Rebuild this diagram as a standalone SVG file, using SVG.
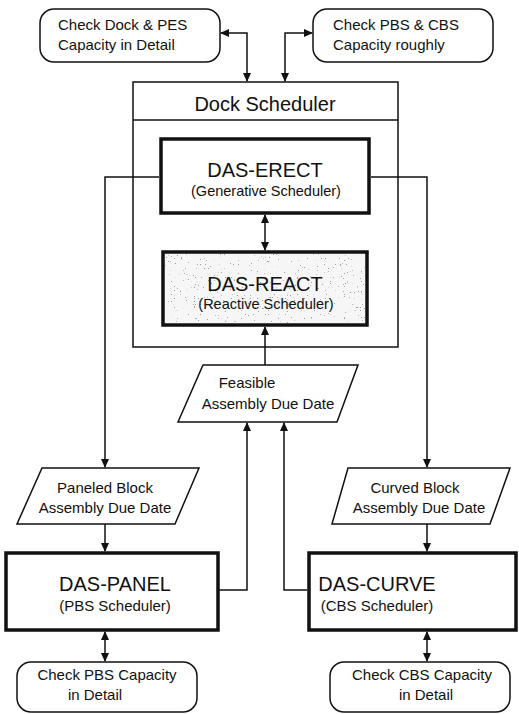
<svg xmlns="http://www.w3.org/2000/svg" width="519" height="714" viewBox="0 0 519 714">
<style>
text{font-family:"Liberation Sans",Arial,sans-serif;fill:#111}
.s{font-size:15px}
.l{font-size:20px}
.m{font-size:14.5px}
.box{fill:#fff;stroke:#111;stroke-width:1.5}
.thick{fill:#fff;stroke:#111;stroke-width:3.5}
.c{fill:none;stroke:#111;stroke-width:1.5}
</style>
<defs>
<marker id="ah" markerUnits="userSpaceOnUse" markerWidth="10" markerHeight="10" refX="8" refY="4" orient="auto-start-reverse" viewBox="0 0 10 8">
<path d="M0,0 L9,4 L0,8 z" fill="#111"/>
</marker>
<filter id="speck" x="0" y="0" width="100%" height="100%">
<feTurbulence type="fractalNoise" baseFrequency="0.7" numOctaves="2" seed="4" result="n"/>
<feColorMatrix in="n" type="matrix" values="0 0 0 0 0.35  0 0 0 0 0.35  0 0 0 0 0.35  0 0 0 -22 6.4" result="d"/>
<feFlood flood-color="#f6f6f6" result="bg"/>
<feComposite in="d" in2="bg" operator="over" result="m"/>
<feComposite in="m" in2="SourceGraphic" operator="in"/>
</filter>
</defs>

<g id="check-dock-pes">
<rect class="box" x="40" y="9" width="180" height="53" rx="14"/>
<text class="s" x="58" y="30">Check Dock &amp; PES</text>
<text class="s" x="58" y="50">Capacity in Detail</text>
</g>

<g id="check-pbs-cbs">
<rect class="box" x="313" y="9" width="180" height="53" rx="14"/>
<text class="s" x="333" y="30">Check PBS &amp; CBS</text>
<text class="s" x="333" y="50">Capacity roughly</text>
</g>

<g id="dock-scheduler">
<rect class="box" x="133" y="82" width="265" height="265"/>
<line class="c" x1="133" y1="120" x2="398" y2="120"/>
<text class="l" x="265" y="111" text-anchor="middle">Dock Scheduler</text>
</g>

<g id="das-erect">
<rect class="thick" x="161" y="139" width="208" height="74"/>
<text class="l" x="265" y="177" text-anchor="middle">DAS-ERECT</text>
<text class="m" x="266" y="196" text-anchor="middle">(Generative Scheduler)</text>
</g>

<g id="das-react">
<rect class="thick" x="163" y="252" width="204" height="73"/>
<rect x="165" y="254" width="200" height="69" fill="#fff" filter="url(#speck)"/>
<text class="l" x="265" y="291" text-anchor="middle">DAS-REACT</text>
<text class="m" x="266" y="309" text-anchor="middle">(Reactive Scheduler)</text>
</g>

<g id="feasible-due-date">
<polygon class="box" points="203,365 358,365 337,422 178,422"/>
<text class="s" x="247" y="388" text-anchor="middle">Feasible</text>
<text class="s" x="268" y="409" text-anchor="middle">Assembly Due Date</text>
</g>

<g id="paneled-due-date">
<polygon class="box" points="42,468 199,468 175,524 17,524"/>
<text class="s" x="105" y="493" text-anchor="middle">Paneled Block</text>
<text class="s" x="105" y="513" text-anchor="middle">Assembly Due Date</text>
</g>

<g id="curved-due-date">
<polygon class="box" points="348,468 510,468 490,524 332,524"/>
<text class="s" x="415" y="493" text-anchor="middle">Curved Block</text>
<text class="s" x="419" y="513" text-anchor="middle">Assembly Due Date</text>
</g>

<g id="das-panel">
<rect class="thick" x="6" y="553" width="212" height="77"/>
<text class="l" x="115" y="591" text-anchor="middle">DAS-PANEL</text>
<text class="s" x="115" y="611" text-anchor="middle">(PBS Scheduler)</text>
</g>

<g id="das-curve">
<rect class="thick" x="309" y="553" width="207" height="77"/>
<text class="l" x="377" y="591" text-anchor="middle">DAS-CURVE</text>
<text class="s" x="377" y="611" text-anchor="middle">(CBS Scheduler)</text>
</g>

<g id="check-pbs-detail">
<rect class="box" x="17" y="662" width="180" height="50" rx="14"/>
<text class="s" x="107" y="680" text-anchor="middle">Check PBS Capacity</text>
<text class="s" x="95" y="700" text-anchor="middle">in Detail</text>
</g>

<g id="check-cbs-detail">
<rect class="box" x="330" y="662" width="180" height="50" rx="14"/>
<text class="s" x="422" y="680" text-anchor="middle">Check CBS Capacity</text>
<text class="s" x="426" y="700" text-anchor="middle">in Detail</text>
</g>

<g id="connectors">
<path class="c" d="M221,33 H247 V81" marker-start="url(#ah)" marker-end="url(#ah)"/>
<path class="c" d="M285,81 V33 H312" marker-start="url(#ah)" marker-end="url(#ah)"/>
<path class="c" d="M265,215 V250" marker-start="url(#ah)" marker-end="url(#ah)"/>
<path class="c" d="M265,365 V327" marker-end="url(#ah)"/>
<path class="c" d="M159,177 H105 V467" marker-end="url(#ah)"/>
<path class="c" d="M371,177 H427 V467" marker-end="url(#ah)"/>
<path class="c" d="M105,524 V551" marker-end="url(#ah)"/>
<path class="c" d="M427,524 V551" marker-end="url(#ah)"/>
<path class="c" d="M219,590 H247 V423" marker-end="url(#ah)"/>
<path class="c" d="M307,590 H284 V423" marker-end="url(#ah)"/>
<path class="c" d="M105,632 V661" marker-start="url(#ah)" marker-end="url(#ah)"/>
<path class="c" d="M427,632 V661" marker-start="url(#ah)" marker-end="url(#ah)"/>
</g>
</svg>
